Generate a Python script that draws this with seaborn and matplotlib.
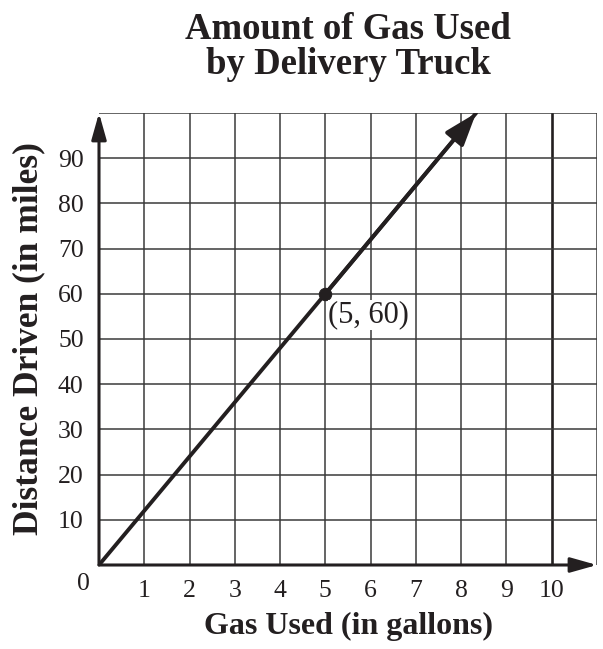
import matplotlib
matplotlib.use("Agg")
import matplotlib.pyplot as plt
import seaborn as sns
import pandas as pd

# values
gas_used = [0, 5, 8.33]
distance = [0, 60, 100]
point_gas = [5]
point_dist = [60]
point_label = "(5, 60)"
x_ticks = list(range(1, 11))
y_ticks = list(range(10, 100, 10))

ink = "#231f20"
grid_col = "#3a3a3a"

sns.set_style("white")
plt.rcParams["font.family"] = ["Liberation Serif", "DejaVu Serif"]

fig = plt.figure(figsize=(6.03, 6.49), dpi=100)
ax = fig.add_axes([99 / 603, 1 - 565 / 649, 498 / 603, 452 / 649])

ax.set_xlim(0, 11)
ax.set_ylim(0, 100)

# grid
for gx in range(1, 12):
    ax.axvline(gx, color=ink if gx == 10 else grid_col,
               lw=1.9 if gx == 10 else 1.1, zorder=1)
for gy in range(10, 101, 10):
    ax.axhline(gy, color=grid_col, lw=1.1, zorder=1)

for s in ax.spines.values():
    s.set_visible(False)

# axes with arrows
axis_arrow = dict(arrowstyle="-|>,head_length=1.6,head_width=0.45",
                  lw=2.2, color=ink, shrinkA=0, shrinkB=0)
ax.annotate("", xy=(0, 100), xytext=(0, 0), arrowprops=axis_arrow,
            annotation_clip=False, zorder=3)
ax.annotate("", xy=(11, 0), xytext=(0, 0), arrowprops=axis_arrow,
            annotation_clip=False, zorder=3)

df = pd.DataFrame({"gas": gas_used, "dist": distance})
sns.lineplot(data=df, x="gas", y="dist", color=ink, lw=2.8, ax=ax, zorder=4)
ax.annotate("", xy=(gas_used[-1], distance[-1]), xytext=(gas_used[-2], distance[-2]),
            arrowprops=dict(arrowstyle="-|>,head_length=2.0,head_width=0.7",
                            lw=2.8, color=ink, shrinkA=0, shrinkB=0),
            annotation_clip=False, zorder=4)

pts = pd.DataFrame({"gas": point_gas, "dist": point_dist})
sns.scatterplot(data=pts, x="gas", y="dist", color=ink, s=80, ax=ax,
                zorder=5, edgecolor=ink)
ax.annotate(point_label, xy=(point_gas[0], point_dist[0]), xytext=(2, -15),
            textcoords="offset points", ha="left", va="center",
            fontsize=22, color=ink, zorder=6,
            bbox=dict(facecolor="white", edgecolor="none", pad=0.5))

ax.set_xticks(x_ticks)
ax.set_xticklabels([str(v) for v in x_ticks])
ax.set_yticks(y_ticks)
ax.set_yticklabels([str(v) for v in y_ticks])
ax.tick_params(axis="x", length=0, pad=11, labelsize=18.5, labelcolor=ink)
ax.tick_params(axis="y", length=0, pad=11, labelsize=18.5, labelcolor=ink)
ax.text(-0.35, -4.2, "0", ha="center", va="center", fontsize=18.5, color=ink)

ax.set_xlabel("Gas Used (in gallons)", fontsize=23, fontweight="bold",
              color=ink, labelpad=7)
ax.set_ylabel("Distance Driven (in miles)", fontsize=25.5, fontweight="bold",
              color=ink, labelpad=9)
ax.set_title("Amount of Gas Used\nby Delivery Truck", fontsize=26.5,
             fontweight="bold", color=ink, pad=28, linespacing=1.0)

fig.savefig("out.png", dpi=100)
